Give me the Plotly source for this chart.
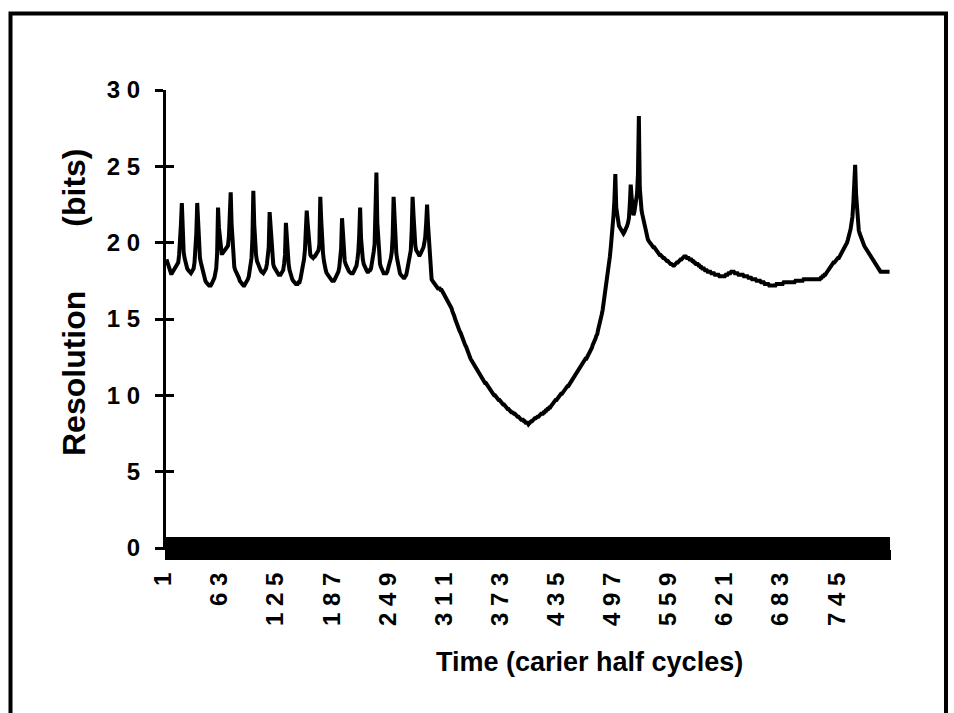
import plotly.graph_objects as go

# Resolution (bits) for each carrier half cycle, in three stretches of the run
res_pulsed = [
    18.9, 18.7, 18.4, 18.2, 18.1, 18.0, 18.0, 18.1, 18.2, 18.3,
    18.4, 18.5, 18.6, 18.7, 19.2, 20.0, 21.2, 22.6, 20.5, 19.4,
    19.0, 18.7, 18.5, 18.3, 18.2, 18.1, 18.0, 18.0, 18.1, 18.2,
    18.3, 18.7, 19.4, 20.6, 22.6, 21.0, 19.5, 19.0, 18.7, 18.4,
    18.1, 17.9, 17.7, 17.5, 17.4, 17.3, 17.3, 17.2, 17.2, 17.2,
    17.3, 17.4, 17.5, 17.7, 18.0, 18.3, 19.3, 22.3, 21.0, 20.2,
    19.6, 19.3, 19.3, 19.4, 19.5, 19.5, 19.6, 19.7, 19.8, 20.4,
    21.5, 23.3, 21.2, 19.8, 19.0, 18.4, 18.2, 18.1, 18.0, 17.8,
    17.7, 17.5, 17.4, 17.3, 17.2, 17.2, 17.2, 17.3, 17.3, 17.4,
    17.6, 17.8, 18.1, 18.4, 19.0, 20.3, 23.4, 21.2, 19.9, 19.2,
    18.8, 18.6, 18.5, 18.3, 18.2, 18.1, 18.0, 18.0, 18.1, 18.2,
    18.3, 18.6, 19.0, 19.7, 22.0, 21.0, 19.6, 19.0, 18.6, 18.4,
    18.3, 18.1, 18.0, 18.0, 17.9, 17.9, 17.9, 18.0, 18.1, 18.2,
    18.6, 19.2, 21.3, 20.0, 19.1, 18.6, 18.2, 17.9, 17.7, 17.6,
    17.5, 17.4, 17.4, 17.3, 17.3, 17.3, 17.4, 17.4, 17.6, 17.9,
    18.1, 18.4, 18.9, 19.5, 20.4, 22.1, 21.3, 20.5, 19.7, 19.2,
    19.1, 19.0, 19.0, 19.1, 19.1, 19.2, 19.3, 19.4, 19.5, 19.9,
    23.0, 21.5, 20.0, 19.3, 18.8, 18.3, 18.2, 18.0, 17.9, 17.8,
    17.7, 17.6, 17.5, 17.5, 17.5, 17.5, 17.6, 17.7, 17.8, 17.9,
    18.1, 18.4, 18.8, 19.6, 21.6, 20.3, 19.2, 18.8, 18.6, 18.4,
    18.3, 18.2, 18.1, 18.0, 18.0, 18.0, 18.0, 18.1, 18.2, 18.3,
    18.5, 18.9, 19.4, 20.5, 22.3, 20.3, 19.3, 18.9, 18.6, 18.4,
    18.3, 18.2, 18.1, 18.1, 18.2, 18.2, 18.3, 18.6, 18.9, 19.4,
    19.9, 21.8, 24.6, 21.3, 19.9, 19.2, 18.6, 18.4, 18.2, 18.0,
    18.0, 18.0, 18.0, 18.0, 18.1, 18.3, 18.4, 18.7, 19.0, 19.4,
    20.5, 23.0, 21.5, 20.0, 19.3, 18.9, 18.5, 18.2, 18.0, 17.9,
    17.8, 17.7, 17.7, 17.7, 17.8, 17.9, 18.2, 18.5, 18.8, 19.1,
    19.5, 20.8, 23.0, 21.8, 20.4, 19.8, 19.5, 19.3, 19.3, 19.2,
    19.2, 19.3, 19.4, 19.5, 19.7, 20.0, 20.4, 21.3, 22.5, 21.2,
]
res_dip = [
    20.0, 19.1, 18.2, 17.6, 17.5, 17.4, 17.3, 17.2, 17.1, 17.1,
    17.0, 17.0, 17.0, 16.9, 16.9, 16.8, 16.7, 16.6, 16.5, 16.4,
    16.3, 16.2, 16.0, 15.9, 15.8, 15.7, 15.5, 15.4, 15.2, 15.0,
    14.8, 14.7, 14.5, 14.4, 14.2, 14.1, 13.9, 13.8, 13.6, 13.5,
    13.3, 13.2, 13.0, 12.9, 12.7, 12.6, 12.4, 12.3, 12.2, 12.1,
    12.0, 11.9, 11.8, 11.7, 11.6, 11.4, 11.3, 11.2, 11.1, 11.1,
    11.0, 10.9, 10.8, 10.8, 10.7, 10.6, 10.5, 10.4, 10.3, 10.3,
    10.2, 10.1, 10.0, 10.0, 9.9, 9.8, 9.8, 9.7, 9.7, 9.6,
    9.5, 9.5, 9.4, 9.4, 9.3, 9.3, 9.2, 9.1, 9.1, 9.0,
    9.0, 8.9, 8.9, 8.8, 8.8, 8.8, 8.7, 8.7, 8.6, 8.6,
    8.5, 8.5, 8.4, 8.4, 8.4, 8.3, 8.3, 8.2, 8.2, 8.2,
    8.1, 8.2, 8.2, 8.3, 8.3, 8.4, 8.4, 8.5, 8.5, 8.6,
    8.6, 8.6, 8.7, 8.7, 8.8, 8.8, 8.8, 8.9, 8.9, 9.0,
    9.0, 9.1, 9.1, 9.2, 9.2, 9.3, 9.4, 9.4, 9.5, 9.6,
    9.7, 9.7, 9.8, 9.9, 9.9, 10.0, 10.1, 10.1, 10.2, 10.3,
    10.3, 10.4, 10.5, 10.6, 10.6, 10.7, 10.8, 10.9, 11.0, 11.1,
    11.2, 11.3, 11.3, 11.4, 11.5, 11.6, 11.7, 11.8, 11.9, 12.0,
    12.1, 12.2, 12.3, 12.4, 12.4, 12.5, 12.6, 12.7, 12.8, 13.0,
    13.1, 13.3, 13.4, 13.6, 13.7, 13.9, 14.0, 14.3, 14.5, 14.7,
    15.0, 15.3, 15.6, 16.0, 16.4, 16.8, 17.2, 17.6, 18.0, 18.5,
]
res_recovery = [
    19.1, 19.7, 20.3, 21.0, 21.8, 22.8, 24.5, 22.3, 21.8, 21.4,
    21.1, 21.0, 20.9, 20.8, 20.7, 20.6, 20.7, 20.8, 20.9, 21.1,
    21.3, 21.6, 22.5, 23.8, 23.0, 22.2, 21.8, 22.0, 22.4, 22.8,
    23.2, 24.5, 28.3, 23.6, 22.6, 22.1, 21.8, 21.5, 21.2, 21.0,
    20.7, 20.4, 20.2, 20.1, 20.0, 19.9, 19.9, 19.8, 19.7, 19.7,
    19.6, 19.6, 19.5, 19.4, 19.3, 19.2, 19.2, 19.1, 19.1, 19.0,
    19.0, 18.9, 18.9, 18.8, 18.8, 18.7, 18.7, 18.6, 18.6, 18.5,
    18.5, 18.5, 18.6, 18.6, 18.7, 18.7, 18.8, 18.8, 18.9, 18.9,
    19.0, 19.0, 19.1, 19.1, 19.1, 19.0, 19.0, 19.0, 18.9, 18.9,
    18.9, 18.8, 18.8, 18.7, 18.7, 18.6, 18.6, 18.6, 18.5, 18.5,
    18.4, 18.4, 18.3, 18.3, 18.3, 18.2, 18.2, 18.2, 18.1, 18.1,
    18.1, 18.1, 18.0, 18.0, 18.0, 18.0, 17.9, 17.9, 17.9, 17.9,
    17.9, 17.8, 17.8, 17.8, 17.8, 17.8, 17.8, 17.8, 17.9, 17.9,
    17.9, 18.0, 18.0, 18.0, 18.1, 18.1, 18.1, 18.1, 18.0, 18.0,
    18.0, 18.0, 17.9, 17.9, 17.9, 17.9, 17.9, 17.9, 17.8, 17.8,
    17.8, 17.8, 17.8, 17.7, 17.7, 17.7, 17.7, 17.6, 17.6, 17.6,
    17.6, 17.6, 17.5, 17.5, 17.5, 17.5, 17.5, 17.4, 17.4, 17.4,
    17.4, 17.3, 17.3, 17.3, 17.3, 17.3, 17.2, 17.2, 17.2, 17.2,
    17.2, 17.2, 17.2, 17.2, 17.3, 17.3, 17.3, 17.3, 17.3, 17.3,
    17.3, 17.3, 17.4, 17.4, 17.4, 17.4, 17.4, 17.4, 17.4, 17.4,
    17.4, 17.4, 17.4, 17.4, 17.4, 17.5, 17.5, 17.5, 17.5, 17.5,
    17.5, 17.5, 17.5, 17.5, 17.6, 17.6, 17.6, 17.6, 17.6, 17.6,
    17.6, 17.6, 17.6, 17.6, 17.6, 17.6, 17.6, 17.6, 17.6, 17.6,
    17.6, 17.6, 17.6, 17.7, 17.7, 17.8, 17.8, 17.9, 17.9, 18.0,
    18.1, 18.2, 18.3, 18.4, 18.5, 18.5, 18.6, 18.7, 18.7, 18.8,
    18.8, 18.9, 19.0, 19.0, 19.1, 19.2, 19.3, 19.4, 19.5, 19.6,
    19.7, 19.8, 20.0, 20.2, 20.4, 20.6, 20.9, 21.3, 21.7, 22.6,
    23.8, 25.1, 23.2, 22.0, 21.2, 20.8, 20.6, 20.4, 20.2, 20.1,
    19.9, 19.8, 19.7, 19.6, 19.5, 19.4, 19.3, 19.2, 19.1, 19.0,
    18.9, 18.8, 18.7, 18.6, 18.5, 18.4, 18.3, 18.2, 18.2, 18.1,
    18.1, 18.1, 18.1, 18.1, 18.1, 18.1, 18.1, 18.1, 18.1, 18.1,
]
resolution = res_pulsed + res_dip + res_recovery
half_cycles = list(range(1, len(resolution) + 1))

x_tick_labels = [1, 63, 125, 187, 249, 311, 373, 435, 497, 559, 621, 683, 745]
y_tick_values = [0, 5, 10, 15, 20, 25, 30]

FONT = "Liberation Sans, Arial, Helvetica, sans-serif"
TICK_FONT = dict(family=FONT, size=24, color="black", weight="bold")


def spaced(n):
    # numerals are set with open letter spacing
    return " ".join(str(n))


x_ticktext = [spaced(c) if c in x_tick_labels else "" for c in half_cycles]

fig = go.Figure()
fig.add_trace(go.Scatter(
    x=half_cycles, y=resolution, mode="lines",
    line=dict(color="black", width=4),
    showlegend=False, hoverinfo="skip",
))
# empty trace that carries the overlay axes (inner halves of the tick marks)
fig.add_trace(go.Scatter(x=[], y=[], xaxis="x2", yaxis="y2",
                         showlegend=False, hoverinfo="skip"))

W, H = 954, 713
L, R, T, B = 166, 64, 90, 165
pw, ph = W - L - R, H - T - B


def px(x):
    return (x - L) / pw


def py(y):
    return (H - B - y) / ph


fig.update_layout(
    width=W, height=H,
    margin=dict(l=L, r=R, t=T, b=B),
    paper_bgcolor="white", plot_bgcolor="white",
    font=dict(family=FONT, color="black", size=24),
    xaxis=dict(
        range=[0.5, len(resolution) + 0.5],
        tickmode="array", tickvals=half_cycles, ticktext=x_ticktext,
        tickangle=-90, ticks="outside", ticklen=10, tickwidth=1.5,
        tickcolor="black", showline=True, linecolor="black", linewidth=2,
        showgrid=False, zeroline=False,
        tickfont=TICK_FONT,
        ticklabelstandoff=3, ticklabelshift=-3,
    ),
    yaxis=dict(
        range=[0, 30],
        tickmode="array", tickvals=y_tick_values,
        ticktext=[spaced(v) for v in y_tick_values],
        ticks="outside", ticklen=8, tickwidth=3, tickcolor="black",
        showline=True, linecolor="black", linewidth=3,
        showgrid=False, zeroline=False,
        tickfont=TICK_FONT,
        ticklabelstandoff=10,
    ),
    xaxis2=dict(
        overlaying="x", anchor="y2", side="bottom",
        range=[0.5, len(resolution) + 0.5],
        tickmode="linear", tick0=1, dtick=1,
        ticks="inside", ticklen=11, tickwidth=1.5, tickcolor="black",
        showticklabels=False, showline=False, showgrid=False, zeroline=False,
    ),
    yaxis2=dict(
        overlaying="y", anchor="x2", side="left",
        range=[0, 30], tickmode="array", tickvals=y_tick_values,
        ticks="inside", ticklen=8, tickwidth=3, tickcolor="black",
        showticklabels=False, showline=False, showgrid=False, zeroline=False,
    ),
    annotations=[
        dict(text="Resolution\u2003\u2003(bits)", textangle=-90,
             xref="paper", yref="paper", x=px(74), y=py(302),
             xanchor="center", yanchor="middle", showarrow=False,
             font=dict(family=FONT, size=32, color="black", weight="bold")),
        dict(text="Time (carier half cycles)",
             xref="paper", yref="paper", x=px(589), y=py(662),
             xanchor="center", yanchor="middle", showarrow=False,
             font=dict(family=FONT, size=27, color="black", weight="bold")),
    ],
    shapes=[
        dict(type="rect", xref="paper", yref="paper",
             x0=px(10.5), x1=px(946), y0=py(730), y1=py(13.5),
             line=dict(color="black", width=4), fillcolor="rgba(0,0,0,0)",
             layer="below"),
    ],
)

fig.write_html("out.html")
